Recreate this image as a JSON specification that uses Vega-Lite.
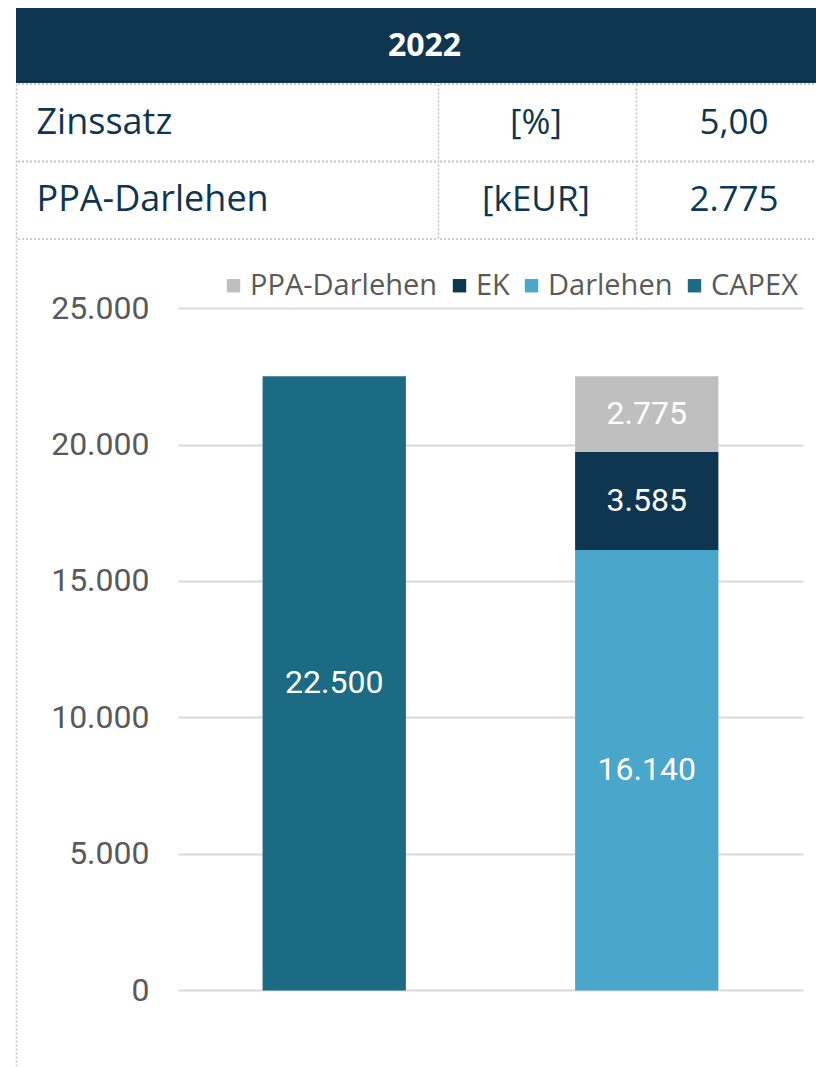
{
  "$schema": "https://vega.github.io/schema/vega-lite/v6.json",
  "padding": {"left": 15, "top": 8, "right": 0, "bottom": 0},
  "background": "white",
  "spacing": 0,
  "config": {
    "locale": {"number": {"decimal": ",", "thousands": ".", "grouping": [3], "currency": ["", " €"]}},
    "view": {"stroke": null},
    "concat": {"spacing": 0},
    "font": "Open Sans"
  },
  "datasets": {
    "tabelle": [
      {"Zeile": "Zinssatz", "Einheit": "[%]", "Wert": "5,00"},
      {"Zeile": "PPA-Darlehen", "Einheit": "[kEUR]", "Wert": "2.775"}
    ],
    "finanzierung": [
      {"Gruppe": "CAPEX", "Kategorie": "CAPEX", "Wert": 22500},
      {"Gruppe": "Finanzierung", "Kategorie": "Darlehen", "Wert": 16140},
      {"Gruppe": "Finanzierung", "Kategorie": "EK", "Wert": 3585},
      {"Gruppe": "Finanzierung", "Kategorie": "PPA-Darlehen", "Wert": 2775}
    ]
  },
  "vconcat": [
    {
      "width": 801,
      "height": 75,
      "view": {"fill": "#0e3650", "stroke": null},
      "data": {"values": [{"Jahr": "2022"}]},
      "mark": {"type": "text", "font": "Open Sans", "fontWeight": "bold", "fontSize": 32, "color": "white", "dx": 8},
      "encoding": {"text": {"field": "Jahr", "type": "nominal"}}
    },
    {
      "spacing": 0,
      "hconcat": [
        {
          "width": 420,
          "height": 155,
          "data": {"name": "tabelle"},
          "layer": [
            {
              "mark": {"type": "rule", "color": "#bfbfbf", "strokeDash": [2, 2], "strokeWidth": 1.5},
              "encoding": {
                "y": {
                  "field": "Zeile", "type": "nominal", "sort": null, "bandPosition": 0,
                  "scale": {"paddingInner": 0, "paddingOuter": 0},
                  "axis": {
                    "title": null, "orient": "left", "ticks": false, "grid": false,
                    "domain": true, "domainColor": "#bfbfbf", "domainDash": [2, 2], "domainWidth": 1.5,
                    "bandPosition": 0.5,
                    "labelAlign": "left", "labelBaseline": "middle", "labelPadding": -20, "labelLimit": 0,
                    "labelFont": "Open Sans", "labelFontSize": 36, "labelColor": "#0e3650"
                  }
                }
              }
            },
            {
              "mark": {"type": "rule", "color": "#bfbfbf", "strokeDash": [2, 2], "strokeWidth": 1.5},
              "encoding": {"y": {"field": "Zeile", "type": "nominal", "sort": null, "bandPosition": 1}}
            }
          ]
        },
        {
          "width": 196,
          "height": 155,
          "data": {"name": "tabelle"},
          "layer": [
            {
              "mark": {"type": "rule", "color": "#bfbfbf", "strokeDash": [2, 2], "strokeWidth": 1.5},
              "encoding": {
                "y": {
                  "field": "Zeile", "type": "nominal", "sort": null, "bandPosition": 0,
                  "scale": {"paddingInner": 0, "paddingOuter": 0},
                  "axis": {
                    "title": null, "orient": "left", "ticks": false, "grid": false, "labels": false,
                    "domain": true, "domainColor": "#bfbfbf", "domainDash": [2, 2], "domainWidth": 1.5
                  }
                }
              }
            },
            {
              "mark": {"type": "rule", "color": "#bfbfbf", "strokeDash": [2, 2], "strokeWidth": 1.5},
              "encoding": {"y": {"field": "Zeile", "type": "nominal", "sort": null, "bandPosition": 1}}
            },
            {
              "mark": {"type": "text", "font": "Open Sans", "fontSize": 35, "color": "#0e3650"},
              "encoding": {
                "y": {"field": "Zeile", "type": "nominal", "sort": null},
                "text": {"field": "Einheit", "type": "nominal"}
              }
            }
          ]
        },
        {
          "width": 178,
          "height": 155,
          "data": {"name": "tabelle"},
          "layer": [
            {
              "mark": {"type": "rule", "color": "#bfbfbf", "strokeDash": [2, 2], "strokeWidth": 1.5},
              "encoding": {
                "y": {
                  "field": "Zeile", "type": "nominal", "sort": null, "bandPosition": 0,
                  "scale": {"paddingInner": 0, "paddingOuter": 0},
                  "axis": {
                    "title": null, "orient": "left", "ticks": false, "grid": false, "labels": false,
                    "domain": true, "domainColor": "#bfbfbf", "domainDash": [2, 2], "domainWidth": 1.5
                  }
                }
              }
            },
            {
              "mark": {"type": "rule", "color": "#bfbfbf", "strokeDash": [2, 2], "strokeWidth": 1.5},
              "encoding": {"y": {"field": "Zeile", "type": "nominal", "sort": null, "bandPosition": 1}}
            },
            {
              "mark": {"type": "text", "font": "Open Sans", "fontSize": 35, "color": "#0e3650", "dx": 9},
              "encoding": {
                "y": {"field": "Zeile", "type": "nominal", "sort": null},
                "text": {"field": "Wert", "type": "nominal"}
              }
            }
          ]
        }
      ]
    },
    {
      "spacing": 0,
      "hconcat": [
        {
          "width": 162,
          "height": 826,
          "data": {"name": "finanzierung"},
          "mark": {"type": "rule", "strokeWidth": 0},
          "encoding": {
            "y": {
              "field": "Wert", "type": "quantitative",
              "scale": {"domain": [-2766, 27491], "nice": false, "zero": false},
              "axis": {
                "title": null,
                "values": [0, 5000, 10000, 15000, 20000, 25000],
                "format": ",.0f",
                "ticks": false,
                "grid": false,
                "labelPadding": -133,
                "labelAlign": "right",
                "labelFont": "Roboto", "labelFontSize": 32, "labelColor": "#595959",
                "domain": true, "domainColor": "#bfbfbf", "domainDash": [2, 2], "domainWidth": 1.5
              }
            }
          }
        },
        {
          "width": 625,
          "height": 826,
          "data": {"name": "finanzierung"},
          "transform": [
            {"stack": "Wert", "groupby": ["Gruppe"], "sort": [{"field": "Kategorie", "order": "ascending"}], "as": ["y0", "y1"]}
          ],
          "layer": [
            {
              "mark": {"type": "bar"},
              "encoding": {
                "x": {
                  "field": "Gruppe", "type": "nominal", "sort": null,
                  "scale": {"paddingInner": 0.5414, "paddingOuter": 0.2707},
                  "axis": null
                },
                "y": {
                  "field": "y0", "type": "quantitative",
                  "scale": {"domain": [-2766, 27491], "nice": false, "zero": false},
                  "axis": {
                    "title": null,
                    "values": [0, 5000, 10000, 15000, 20000, 25000],
                    "labels": false, "ticks": false, "domain": false,
                    "grid": true, "gridColor": "#d9d9d9", "gridWidth": 2
                  }
                },
                "y2": {"field": "y1"},
                "color": {
                  "field": "Kategorie", "type": "nominal",
                  "scale": {
                    "domain": ["PPA-Darlehen", "EK", "Darlehen", "CAPEX"],
                    "range": ["#bfbfbf", "#0e3650", "#4ba6cc", "#1b6b85"]
                  },
                  "legend": {
                    "title": null, "orient": "none", "legendX": 203, "legendY": 263,
                    "direction": "horizontal", "symbolType": "square", "symbolSize": 180,
                    "symbolStrokeWidth": 0, "labelFont": "Open Sans", "labelFontSize": 29,
                    "labelColor": "#595959", "labelOffset": 2, "columnPadding": 7, "labelLimit": 0
                  }
                }
              }
            },
            {
              "transform": [{"fold": ["y0", "y1"], "as": ["Grenze", "Position"]}],
              "mark": {"type": "text", "color": "white", "font": "Roboto", "fontSize": 32},
              "encoding": {
                "x": {"field": "Gruppe", "type": "nominal", "sort": null},
                "y": {"aggregate": "mean", "field": "Position", "type": "quantitative"},
                "detail": {"field": "Kategorie", "type": "nominal"},
                "text": {"aggregate": "max", "field": "Wert", "type": "quantitative", "format": ",.0f"}
              }
            }
          ]
        }
      ]
    }
  ]
}
